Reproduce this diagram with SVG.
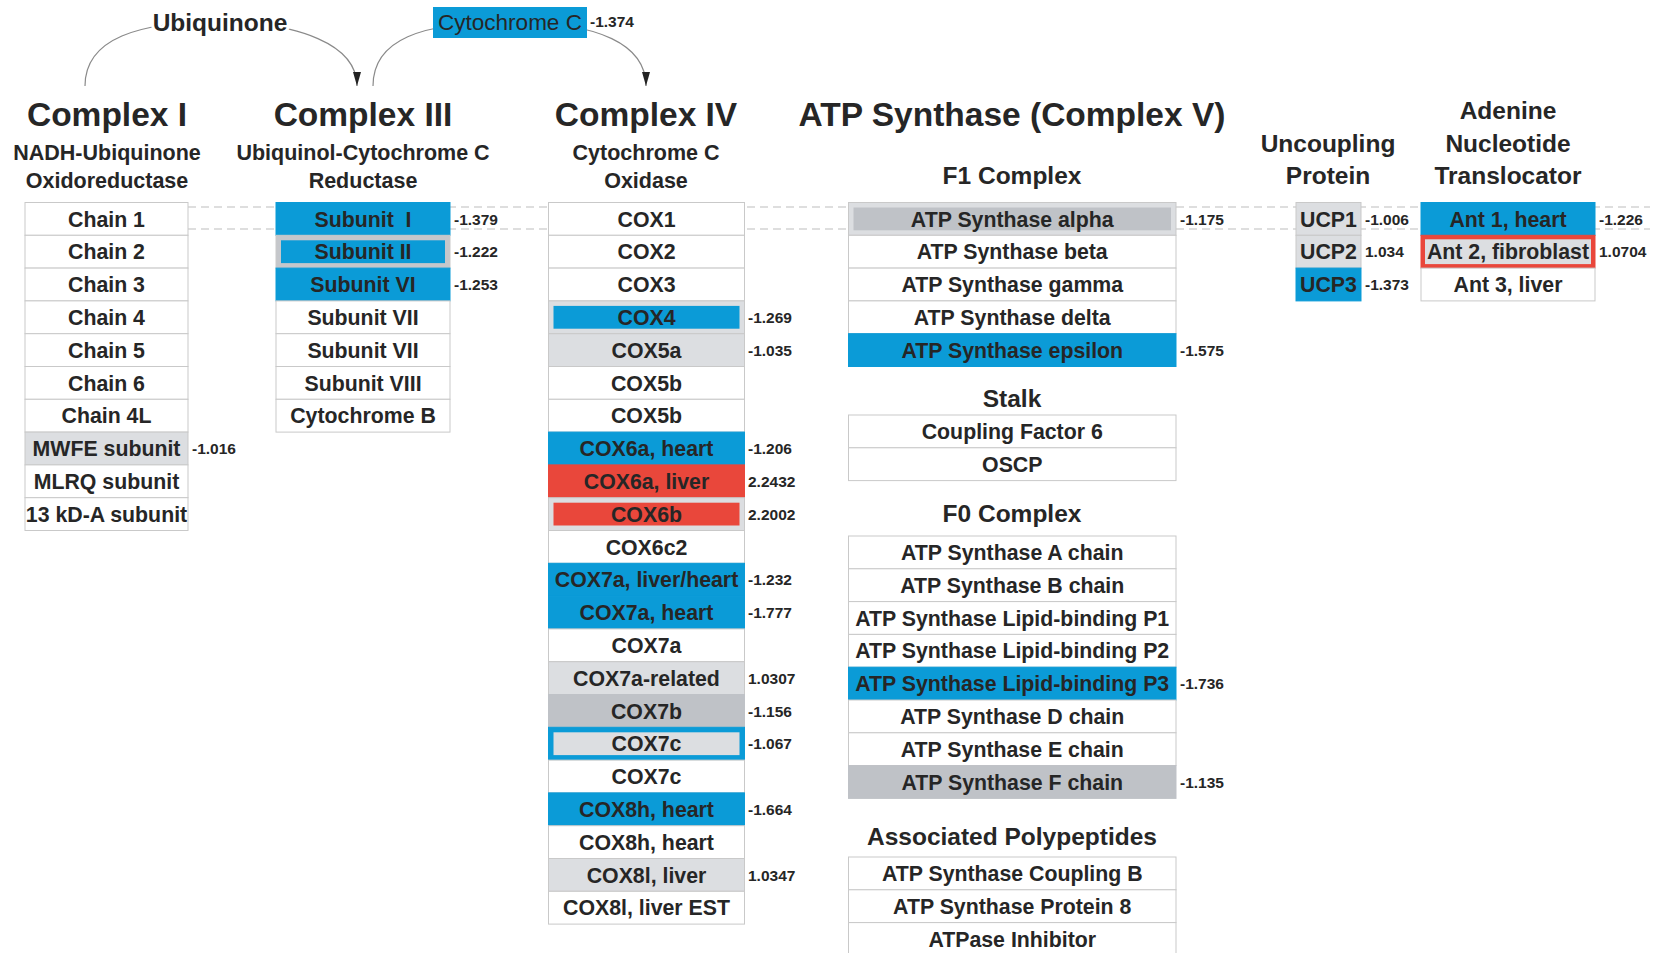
<svg xmlns="http://www.w3.org/2000/svg" width="1657" height="953" viewBox="0 0 1657 953">
<style>
text{font-family:"Liberation Sans",Arial,sans-serif;fill:#262626}
.c{fill:#fff;stroke:#c9c9c9;stroke-width:1}
.b{fill:#0b9bd7;stroke:#0b9bd7}
.r{fill:#e9473b;stroke:#e9473b}
.lg{fill:#dcdee1;stroke:#c9c9c9}
.dg{fill:#bfc2c7;stroke:#bfc2c7}
.ib{fill:#0b9bd7}
.ir{fill:#e9473b}
.ilg{fill:#dcdee1}
.idg{fill:#bfc2c7}
.t{font-weight:bold;font-size:21.3px;text-anchor:middle}
.v{font-weight:bold;font-size:15.5px}
.h1{font-weight:bold;font-size:33.5px;text-anchor:middle}
.h2{font-weight:bold;font-size:21.5px;text-anchor:middle}
.h3{font-weight:bold;font-size:24.5px;text-anchor:middle}
.arc{fill:none;stroke:#8a8a8a;stroke-width:1.2}
.dash{stroke:#bdbdbd;stroke-width:1;stroke-dasharray:8 5}
</style>
<defs>
<marker id="ah" viewBox="0 0 14 8" refX="14" refY="4" markerWidth="14" markerHeight="8" orient="auto" markerUnits="userSpaceOnUse"><path d="M0,0 L14,4 L0,8 z" fill="#222"/></marker>
</defs>
<rect width="1657" height="953" fill="#fff"/>

<g id="guides">
<line class="dash" x1="188" y1="207" x2="1650" y2="207"/>
<line class="dash" x1="188" y1="229" x2="1650" y2="229"/>
</g>

<g id="connectors">
<path class="arc" d="M85 86 C85 38 140 22 215 22 C300 22 357 45 357 86" marker-end="url(#ah)"/>
<path class="arc" d="M373 86 C373 40 420 22 510 22 C600 22 646 45 646 86" marker-end="url(#ah)"/>
</g>

<g id="ubiquinone"><text class="h3" x="220" y="31" stroke="#fff" stroke-width="6" paint-order="stroke">Ubiquinone</text></g>
<g id="cytochrome-c">
<rect x="433" y="7" width="154" height="31" fill="#0b9bd7"/>
<text x="510" y="30" font-size="22.5" text-anchor="middle">Cytochrome C</text>
<text class="v" x="590" y="27">-1.374</text>
</g>

<g id="headers">
<text class="h1" x="107" y="126">Complex I</text>
<text class="h2" x="107" y="160">NADH-Ubiquinone</text>
<text class="h2" x="107" y="188">Oxidoreductase</text>
<text class="h1" x="363" y="126">Complex III</text>
<text class="h2" x="363" y="160">Ubiquinol-Cytochrome C</text>
<text class="h2" x="363" y="188">Reductase</text>
<text class="h1" x="646" y="126">Complex IV</text>
<text class="h2" x="646" y="160">Cytochrome C</text>
<text class="h2" x="646" y="188">Oxidase</text>
<text class="h1" x="1012" y="126">ATP Synthase (Complex V)</text>
<text class="h3" x="1012" y="184">F1 Complex</text>
<text class="h3" x="1012" y="407">Stalk</text>
<text class="h3" x="1012" y="522">F0 Complex</text>
<text class="h3" x="1012" y="845">Associated Polypeptides</text>
<text class="h3" x="1328" y="152">Uncoupling</text>
<text class="h3" x="1328" y="184">Protein</text>
<text class="h3" x="1508" y="119">Adenine</text>
<text class="h3" x="1508" y="152">Nucleotide</text>
<text class="h3" x="1508" y="184">Translocator</text>
</g>

<g id="complex-I">
<g id="c1-chain1"><rect class="c" x="25" y="202.5" width="163" height="32.8"/><text class="t" x="106.5" y="226.5">Chain 1</text></g>
<g id="c1-chain2"><rect class="c" x="25" y="235.3" width="163" height="32.8"/><text class="t" x="106.5" y="259.3">Chain 2</text></g>
<g id="c1-chain3"><rect class="c" x="25" y="268.1" width="163" height="32.8"/><text class="t" x="106.5" y="292.1">Chain 3</text></g>
<g id="c1-chain4"><rect class="c" x="25" y="300.9" width="163" height="32.8"/><text class="t" x="106.5" y="324.9">Chain 4</text></g>
<g id="c1-chain5"><rect class="c" x="25" y="333.7" width="163" height="32.8"/><text class="t" x="106.5" y="357.7">Chain 5</text></g>
<g id="c1-chain6"><rect class="c" x="25" y="366.5" width="163" height="32.8"/><text class="t" x="106.5" y="390.5">Chain 6</text></g>
<g id="c1-chain4l"><rect class="c" x="25" y="399.3" width="163" height="32.8"/><text class="t" x="106.5" y="423.3">Chain 4L</text></g>
<g id="c1-mwfe"><rect class="c lg" x="25" y="432.1" width="163" height="32.8"/><text class="t" x="106.5" y="456.1">MWFE subunit</text><text class="v" x="192" y="454.1">-1.016</text></g>
<g id="c1-mlrq"><rect class="c" x="25" y="464.9" width="163" height="32.8"/><text class="t" x="106.5" y="488.9">MLRQ subunit</text></g>
<g id="c1-13kda"><rect class="c" x="25" y="497.7" width="163" height="32.8"/><text class="t" x="106.5" y="521.7">13 kD-A subunit</text></g>
</g>

<g id="complex-III">
<g id="c3-sub1"><rect class="c b" x="276" y="202.5" width="174" height="32.8"/><text class="t" x="363" y="226.5" xml:space="preserve">Subunit  I</text><text class="v" x="454" y="224.5">-1.379</text></g>
<g id="c3-sub2"><rect class="c" x="276" y="235.3" width="174" height="32.8" style="fill:#c5c7cb"/><rect class="ib" x="281" y="240.3" width="164" height="22.8"/><text class="t" x="363" y="259.3">Subunit II</text><text class="v" x="454" y="257.3">-1.222</text></g>
<g id="c3-sub6"><rect class="c b" x="276" y="268.1" width="174" height="32.8"/><text class="t" x="363" y="292.1">Subunit VI</text><text class="v" x="454" y="290.1">-1.253</text></g>
<g id="c3-sub7a"><rect class="c" x="276" y="300.9" width="174" height="32.8"/><text class="t" x="363" y="324.9">Subunit VII</text></g>
<g id="c3-sub7b"><rect class="c" x="276" y="333.7" width="174" height="32.8"/><text class="t" x="363" y="357.7">Subunit VII</text></g>
<g id="c3-sub8"><rect class="c" x="276" y="366.5" width="174" height="32.8"/><text class="t" x="363" y="390.5">Subunit VIII</text></g>
<g id="c3-cytb"><rect class="c" x="276" y="399.3" width="174" height="32.8"/><text class="t" x="363" y="423.3">Cytochrome B</text></g>
</g>

<g id="complex-IV">
<g id="c4-cox1"><rect class="c" x="548.5" y="202.5" width="196" height="32.8"/><text class="t" x="646.5" y="226.5">COX1</text></g>
<g id="c4-cox2"><rect class="c" x="548.5" y="235.3" width="196" height="32.8"/><text class="t" x="646.5" y="259.3">COX2</text></g>
<g id="c4-cox3"><rect class="c" x="548.5" y="268.1" width="196" height="32.8"/><text class="t" x="646.5" y="292.1">COX3</text></g>
<g id="c4-cox4"><rect class="c lg" x="548.5" y="300.9" width="196" height="32.8"/><rect class="ib" x="553.5" y="305.9" width="186" height="22.8"/><text class="t" x="646.5" y="324.9">COX4</text><text class="v" x="748" y="322.9">-1.269</text></g>
<g id="c4-cox5a"><rect class="c lg" x="548.5" y="333.7" width="196" height="32.8"/><text class="t" x="646.5" y="357.7">COX5a</text><text class="v" x="748" y="355.7">-1.035</text></g>
<g id="c4-cox5b-1"><rect class="c" x="548.5" y="366.5" width="196" height="32.8"/><text class="t" x="646.5" y="390.5">COX5b</text></g>
<g id="c4-cox5b-2"><rect class="c" x="548.5" y="399.3" width="196" height="32.8"/><text class="t" x="646.5" y="423.3">COX5b</text></g>
<g id="c4-cox6a-heart"><rect class="c b" x="548.5" y="432.1" width="196" height="32.8"/><text class="t" x="646.5" y="456.1">COX6a, heart</text><text class="v" x="748" y="454.1">-1.206</text></g>
<g id="c4-cox6a-liver"><rect class="c r" x="548.5" y="464.9" width="196" height="32.8"/><text class="t" x="646.5" y="488.9">COX6a, liver</text><text class="v" x="748" y="486.9">2.2432</text></g>
<g id="c4-cox6b"><rect class="c lg" x="548.5" y="497.7" width="196" height="32.8"/><rect class="ir" x="553.5" y="502.7" width="186" height="22.8"/><text class="t" x="646.5" y="521.7">COX6b</text><text class="v" x="748" y="519.7">2.2002</text></g>
<g id="c4-cox6c2"><rect class="c" x="548.5" y="530.5" width="196" height="32.8"/><text class="t" x="646.5" y="554.5">COX6c2</text></g>
<g id="c4-cox7a-lh"><rect class="c b" x="548.5" y="563.3" width="196" height="32.8"/><text class="t" x="646.5" y="587.3">COX7a, liver/heart</text><text class="v" x="748" y="585.3">-1.232</text></g>
<g id="c4-cox7a-heart"><rect class="c b" x="548.5" y="596.1" width="196" height="32.8"/><text class="t" x="646.5" y="620.1">COX7a, heart</text><text class="v" x="748" y="618.1">-1.777</text></g>
<g id="c4-cox7a"><rect class="c" x="548.5" y="628.9" width="196" height="32.8"/><text class="t" x="646.5" y="652.9">COX7a</text></g>
<g id="c4-cox7a-rel"><rect class="c lg" x="548.5" y="661.7" width="196" height="32.8"/><text class="t" x="646.5" y="685.7">COX7a-related</text><text class="v" x="748" y="683.7">1.0307</text></g>
<g id="c4-cox7b"><rect class="c dg" x="548.5" y="694.5" width="196" height="32.8"/><text class="t" x="646.5" y="718.5">COX7b</text><text class="v" x="748" y="716.5">-1.156</text></g>
<g id="c4-cox7c-1"><rect class="c b" x="548.5" y="727.3" width="196" height="32.8"/><rect class="ilg" x="553.5" y="732.3" width="186" height="22.8"/><text class="t" x="646.5" y="751.3">COX7c</text><text class="v" x="748" y="749.3">-1.067</text></g>
<g id="c4-cox7c-2"><rect class="c" x="548.5" y="760.1" width="196" height="32.8"/><text class="t" x="646.5" y="784.1">COX7c</text></g>
<g id="c4-cox8h-1"><rect class="c b" x="548.5" y="792.9" width="196" height="32.8"/><text class="t" x="646.5" y="816.9">COX8h, heart</text><text class="v" x="748" y="814.9">-1.664</text></g>
<g id="c4-cox8h-2"><rect class="c" x="548.5" y="825.7" width="196" height="32.8"/><text class="t" x="646.5" y="849.7">COX8h, heart</text></g>
<g id="c4-cox8l-liver"><rect class="c lg" x="548.5" y="858.5" width="196" height="32.8"/><text class="t" x="646.5" y="882.5">COX8l, liver</text><text class="v" x="748" y="880.5">1.0347</text></g>
<g id="c4-cox8l-est"><rect class="c" x="548.5" y="891.3" width="196" height="32.8"/><text class="t" x="646.5" y="915.3">COX8l, liver EST</text></g>
</g>

<g id="atp-f1">
<g id="f1-alpha"><rect class="c lg" x="848.5" y="202.5" width="327.5" height="32.8"/><rect class="idg" x="853.5" y="207.5" width="317.5" height="22.8"/><text class="t" x="1012.25" y="226.5">ATP Synthase alpha</text><text class="v" x="1180" y="224.5">-1.175</text></g>
<g id="f1-beta"><rect class="c" x="848.5" y="235.3" width="327.5" height="32.8"/><text class="t" x="1012.25" y="259.3">ATP Synthase beta</text></g>
<g id="f1-gamma"><rect class="c" x="848.5" y="268.1" width="327.5" height="32.8"/><text class="t" x="1012.25" y="292.1">ATP Synthase gamma</text></g>
<g id="f1-delta"><rect class="c" x="848.5" y="300.9" width="327.5" height="32.8"/><text class="t" x="1012.25" y="324.9">ATP Synthase delta</text></g>
<g id="f1-epsilon"><rect class="c b" x="848.5" y="333.7" width="327.5" height="32.8"/><text class="t" x="1012.25" y="357.7">ATP Synthase epsilon</text><text class="v" x="1180" y="355.7">-1.575</text></g>
</g>

<g id="atp-stalk">
<g id="st-cf6"><rect class="c" x="848.5" y="415" width="327.5" height="32.8"/><text class="t" x="1012.25" y="439">Coupling Factor 6</text></g>
<g id="st-oscp"><rect class="c" x="848.5" y="447.8" width="327.5" height="32.8"/><text class="t" x="1012.25" y="471.8">OSCP</text></g>
</g>

<g id="atp-f0">
<g id="f0-a"><rect class="c" x="848.5" y="536" width="327.5" height="32.8"/><text class="t" x="1012.25" y="560">ATP Synthase A chain</text></g>
<g id="f0-b"><rect class="c" x="848.5" y="568.8" width="327.5" height="32.8"/><text class="t" x="1012.25" y="592.8">ATP Synthase B chain</text></g>
<g id="f0-p1"><rect class="c" x="848.5" y="601.6" width="327.5" height="32.8"/><text class="t" x="1012.25" y="625.6">ATP Synthase Lipid-binding P1</text></g>
<g id="f0-p2"><rect class="c" x="848.5" y="634.4" width="327.5" height="32.8"/><text class="t" x="1012.25" y="658.4">ATP Synthase Lipid-binding P2</text></g>
<g id="f0-p3"><rect class="c b" x="848.5" y="667.2" width="327.5" height="32.8"/><text class="t" x="1012.25" y="691.2">ATP Synthase Lipid-binding P3</text><text class="v" x="1180" y="689.2">-1.736</text></g>
<g id="f0-d"><rect class="c" x="848.5" y="700" width="327.5" height="32.8"/><text class="t" x="1012.25" y="724">ATP Synthase D chain</text></g>
<g id="f0-e"><rect class="c" x="848.5" y="732.8" width="327.5" height="32.8"/><text class="t" x="1012.25" y="756.8">ATP Synthase E chain</text></g>
<g id="f0-f"><rect class="c dg" x="848.5" y="765.6" width="327.5" height="32.8"/><text class="t" x="1012.25" y="789.6">ATP Synthase F chain</text><text class="v" x="1180" y="787.6">-1.135</text></g>
</g>

<g id="atp-assoc">
<g id="as-cb"><rect class="c" x="848.5" y="857" width="327.5" height="32.8"/><text class="t" x="1012.25" y="881">ATP Synthase Coupling B</text></g>
<g id="as-p8"><rect class="c" x="848.5" y="889.8" width="327.5" height="32.8"/><text class="t" x="1012.25" y="913.8">ATP Synthase Protein 8</text></g>
<g id="as-inh"><rect class="c" x="848.5" y="922.6" width="327.5" height="32.8"/><text class="t" x="1012.25" y="946.6">ATPase Inhibitor</text></g>
</g>

<g id="ucp">
<g id="ucp1"><rect class="c lg" x="1296" y="202.5" width="65" height="32.8"/><text class="t" x="1328.5" y="226.5">UCP1</text><text class="v" x="1365" y="224.5">-1.006</text></g>
<g id="ucp2"><rect class="c lg" x="1296" y="235.3" width="65" height="32.8"/><text class="t" x="1328.5" y="259.3">UCP2</text><text class="v" x="1365" y="257.3">1.034</text></g>
<g id="ucp3"><rect class="c b" x="1296" y="268.1" width="65" height="32.8"/><text class="t" x="1328.5" y="292.1">UCP3</text><text class="v" x="1365" y="290.1">-1.373</text></g>
</g>

<g id="ant">
<g id="ant1"><rect class="c b" x="1421" y="202.5" width="174" height="32.8"/><text class="t" x="1508" y="226.5">Ant 1, heart</text><text class="v" x="1599" y="224.5">-1.226</text></g>
<g id="ant2"><rect class="c r" x="1421" y="235.3" width="174" height="32.8"/><rect class="ilg" x="1425" y="239.3" width="166" height="24.8"/><text class="t" x="1508" y="259.3">Ant 2, fibroblast</text><text class="v" x="1599" y="257.3">1.0704</text></g>
<g id="ant3"><rect class="c" x="1421" y="268.1" width="174" height="32.8"/><text class="t" x="1508" y="292.1">Ant 3, liver</text></g>
</g>
</svg>
